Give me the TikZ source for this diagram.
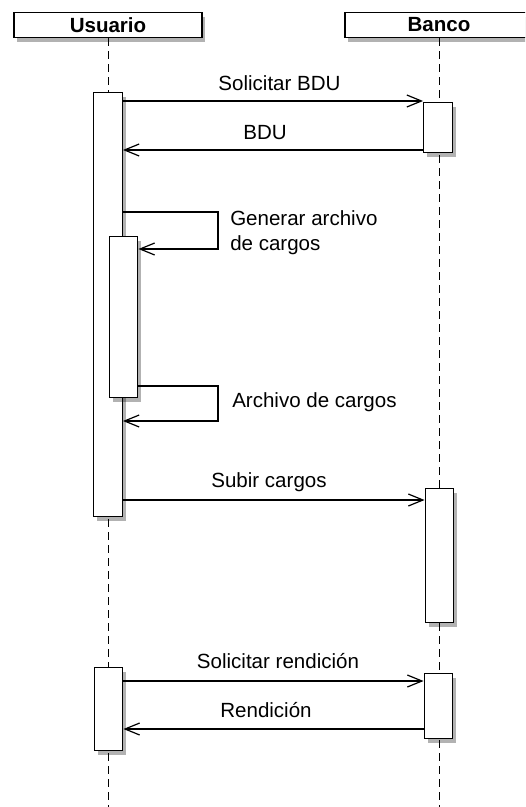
\documentclass[tikz,border=0pt]{standalone}
\usepackage{fontspec}
\setmainfont{Liberation Sans}
\usetikzlibrary{arrows.meta}
\usetikzlibrary{shadows}

\begin{document}
\begin{tikzpicture}[x=0.75pt,y=-0.75pt,
    every node/.style={font=\fontsize{15.4}{18.75}\selectfont},
    boxshadow/.style={drop shadow={shadow xshift=2.5pt,shadow yshift=-3pt,fill=black,opacity=0.3}},
    actor/.style={draw,fill=white,line width=0.9pt,minimum width=141pt,minimum height=18.75pt,
        inner sep=0pt,font=\fontsize{15.4}{18.75}\selectfont\bfseries,boxshadow},
    act/.style={draw,fill=white,line width=0.9pt,minimum width=21.5pt,inner sep=0pt,anchor=north,boxshadow},
    life/.style={line width=0.75pt,dash pattern=on 6pt off 3.75pt},
    msg/.style={line width=0.9pt,-{Straight Barb[length=11pt,width=9pt]}},
    lbl/.style={inner sep=0pt}]

    % page frame
    \useasboundingbox (0,0) rectangle (525,807);
    \clip (0,0) rectangle (525,807);

    % lifelines
    \node[actor] (usuario) at (108,25) {Usuario};
    \node[actor] (banco) at (439,25) {Banco};
    \coordinate (uend) at (108,807);
    \coordinate (bend) at (439,807);
    \draw[life] (usuario.south) -- (uend);
    \draw[life] (banco.south) -- (bend);

    % activations
    \node[act,minimum height=318pt] (u1) at (108,92) {};
    \node[act,minimum height=120.75pt] (u2) at (123.5,236) {};
    \node[act,minimum height=37.5pt] (b1) at (438,102) {};
    \node[act,minimum height=100.5pt] (b2) at (439.5,488) {};
    \node[act,minimum height=62.25pt] (u3) at (108.5,667) {};
    \node[act,minimum height=48.75pt] (b3) at (438.5,673) {};

    % Solicitar BDU / BDU
    \draw[msg] (u1.east |- 0,101) -- (b1.west |- 0,101);
    \node[lbl,anchor=base] (t1) at (279.5,90) {Solicitar BDU};
    \draw[msg] (b1.west |- 0,150) -- (u1.east |- 0,150);
    \node[lbl,anchor=base] (t2) at (265,139) {BDU};

    % self calls
    \coordinate (s1) at (218,212);
    \coordinate (s2) at (218,249);
    \draw[msg] (u1.east |- s1) -- (s1) -- (s2) -- (u2.east |- s2);
    \node[lbl,anchor=base west,align=left] (t3) at (230,250) {Generar archivo\\de cargos};
    \coordinate (s3) at (218,386);
    \coordinate (s4) at (218,421);
    \draw[msg] (u2.east |- s3) -- (s3) -- (s4) -- (u1.east |- s4);
    \node[lbl,anchor=base west] (t4) at (232,407) {Archivo de cargos};

    % Subir cargos
    \draw[msg] (u1.east |- 0,500) -- (b2.west |- 0,500);
    \node[lbl,anchor=base] (t5) at (269,487) {Subir cargos};

    % rendicion
    \draw[msg] (u3.east |- 0,681) -- (b3.west |- 0,681);
    \node[lbl,anchor=base] (t6) at (278,668) {Solicitar rendición};
    \draw[msg] (b3.west |- 0,729) -- (u3.east |- 0,729);
    \node[lbl,anchor=base] (t7) at (266,717) {Rendición};

\end{tikzpicture}
\end{document}
